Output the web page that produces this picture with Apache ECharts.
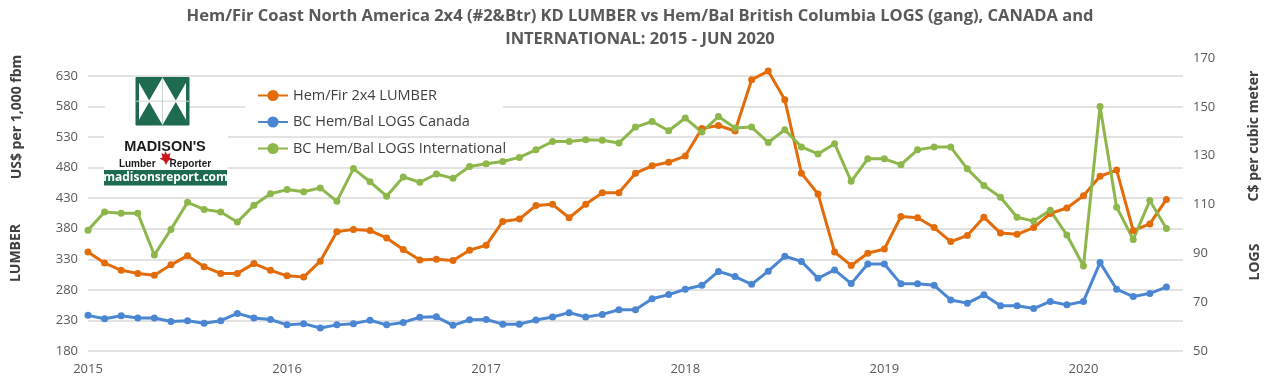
<!DOCTYPE html>
<html><head><meta charset="utf-8">
<script src="https://cdn.jsdelivr.net/npm/echarts@6/dist/echarts.min.js"></script>
<style>html,body{margin:0;padding:0;background:#fff}#c{width:1280px;height:383px}</style>
</head><body><div id="c"></div>
<script>
// ---- data (monthly, Jan 2015 - Jun 2020) ----
const firstYear = 2015;
const monthSlots = 67; // Jan 2015 .. Jul 2020 (last slot empty)
const lumber = [342,324,312,307,304,321,336,318,307,307,323,312,
  303,301,327,375,379,377,365,346,329,330,328,345,
  353,392,396,418,420,398,420,439,439,471,483,489,
  499,544,549,540,624,638,591,471,437,342,320,340,
  347,400,398,382,359,369,399,373,371,382,405,414,
  434,466,476,377,388,428];
const logsCanada = [64.6,63.2,64.4,63.5,63.5,62.1,62.4,61.4,62.4,65.4,63.5,62.9,
  60.7,61.2,59.4,60.7,61.2,62.6,60.7,61.7,63.8,64.0,60.5,62.8,
  62.9,61.0,61.0,62.7,63.9,65.7,63.9,65.0,66.9,66.9,71.4,73.1,
  75.3,76.9,82.6,80.5,77.3,82.7,88.8,86.7,79.8,83.2,77.6,85.6,
  85.6,77.5,77.5,76.9,70.9,69.6,73.0,68.5,68.5,67.4,70.3,68.9,
  70.3,86.2,75.3,72.3,73.6,76.2];
const logsIntl = [99.5,106.9,106.4,106.4,89.3,99.8,110.9,108.0,106.9,102.8,109.7,114.4,
  116.1,115.2,116.8,111.3,124.7,119.3,113.4,121.3,119.1,122.5,120.7,125.6,
  126.7,127.6,129.3,132.4,135.8,135.8,136.5,136.3,135.2,141.7,144.0,140.2,
  145.4,139.7,146.0,141.3,141.7,135.4,140.6,133.6,130.7,134.9,119.5,128.7,
  128.7,126.3,132.4,133.5,133.5,124.6,117.8,113.0,104.8,103.2,107.6,97.5,
  84.8,150.1,108.9,95.7,111.6,100.2];
const seriesNames = ['Hem/Fir 2x4 LUMBER','BC Hem/Bal LOGS Canada','BC Hem/Bal LOGS International'];
const leftAxis = {min:180, max:630, interval:50};
const rightAxis = {min:50, max:170, interval:20};

const months = [];
for (let k = 0; k < monthSlots; k++) {
  const y = firstYear + Math.floor(k / 12);
  const m = (k % 12) + 1;
  months.push(y + '-' + (m < 10 ? '0' + m : m));
}

const FONT = 'Open Sans';
const GRAY = '#595959';
const colors = ['#E36C0A', '#4A86D2', '#8DB74B'];

function lineSeries(name, data, idx) {
  const c = colors[seriesNames.indexOf(name)];
  return {
    name: name, type: 'line', data: data,
    xAxisIndex: idx, yAxisIndex: idx, clip: false,
    symbol: 'circle', symbolSize: 7, showSymbol: true,
    lineStyle: {width: 3, color: c}, itemStyle: {color: c}, color: c
  };
}

const chart = echarts.init(document.getElementById('c'), null, {renderer: 'canvas'});
const grid = {left: 88, right: 97, bottom: 32};
chart.setOption({
  animation: false,
  backgroundColor: '#fff',
  title: {
    text: 'Hem/Fir Coast North America 2x4 (#2&Btr) KD LUMBER vs Hem/Bal British Columbia LOGS (gang), CANADA and\nINTERNATIONAL: 2015 - JUN 2020',
    left: 'center', top: 0,
    textStyle: {fontFamily: FONT, fontSize: 16.5, fontWeight: 'bold', color: GRAY, lineHeight: 23}
  },
  legend: {
    orient: 'vertical', left: 252, top: 83,
    itemWidth: 30, itemHeight: 14, itemGap: 11.5,
    textStyle: {fontFamily: FONT, fontSize: 14.5, color: '#404040'},
    data: seriesNames
  },
  grid: [
    Object.assign({top: 76}, grid),
    Object.assign({top: 58}, grid)
  ],
  xAxis: [0, 1].map(i => ({
    type: 'category', gridIndex: i, data: months, boundaryGap: false, show: i === 0,
    axisLine: {show: false}, axisTick: {show: false},
    axisLabel: {interval: 11, formatter: v => v.slice(0, 4), margin: 12,
      fontFamily: FONT, fontSize: 13, color: GRAY},
    splitLine: {show: false}
  })),
  yAxis: [
    {type: 'value', gridIndex: 0, position: 'left', min: leftAxis.min, max: leftAxis.max, interval: leftAxis.interval,
      axisLine: {show: false}, axisTick: {show: false},
      axisLabel: {margin: 10, fontFamily: FONT, fontSize: 13, color: GRAY},
      splitLine: {lineStyle: {color: '#D9D9D9', width: 1.5}}},
    {type: 'value', gridIndex: 1, position: 'right', min: rightAxis.min, max: rightAxis.max, interval: rightAxis.interval,
      axisLine: {show: false}, axisTick: {show: false},
      axisLabel: {margin: 10, fontFamily: FONT, fontSize: 13, color: GRAY},
      splitLine: {show: false}}
  ],
  series: [
    lineSeries(seriesNames[0], lumber, 0),
    lineSeries(seriesNames[1], logsCanada, 1),
    lineSeries(seriesNames[2], logsIntl, 1)
  ],
  graphic: [
    // axis names
    {type: 'text', x: 17, y: 117, rotation: Math.PI / 2, z: 5,
      style: {text: 'US$ per 1,000 fbm', fontFamily: FONT, fontSize: 14, fontWeight: 'bold', fill: '#404040', align: 'center', verticalAlign: 'middle'}},
    {type: 'text', x: 16, y: 253, rotation: Math.PI / 2, z: 5,
      style: {text: 'LUMBER', fontFamily: FONT, fontSize: 14, fontWeight: 'bold', fill: '#404040', align: 'center', verticalAlign: 'middle'}},
    {type: 'text', x: 1254, y: 136, rotation: Math.PI / 2, z: 5,
      style: {text: 'C$ per cubic meter', fontFamily: FONT, fontSize: 14, fontWeight: 'bold', fill: '#404040', align: 'center', verticalAlign: 'middle'}},
    {type: 'text', x: 1255, y: 262, rotation: Math.PI / 2, z: 5,
      style: {text: 'LOGS', fontFamily: FONT, fontSize: 14, fontWeight: 'bold', fill: '#404040', align: 'center', verticalAlign: 'middle'}},
    // legend backdrop
    {type: 'rect', z: 1, shape: {x: 245, y: 80, width: 258, height: 48}, style: {fill: '#fff'}},
    // logo backdrop
    {type: 'rect', z: 1, shape: {x: 105, y: 95, width: 31, height: 34}, style: {fill: '#fff'}},
    {type: 'rect', z: 1, shape: {x: 104, y: 128, width: 124, height: 60}, style: {fill: '#fff'}},
    // logo square
    {type: 'rect', z: 3, shape: {x: 136, y: 77.5, width: 53, height: 47.5}, style: {fill: '#fff', stroke: '#1F6B4F', lineWidth: 1}},
    {type: 'polygon', z: 3, shape: {points: [[136,77.5],[162.5,77.5],[149.2,100.5]]}, style: {fill: '#1F6B4F'}},
    {type: 'polygon', z: 3, shape: {points: [[162.5,77.5],[189,77.5],[175.8,100.5]]}, style: {fill: '#1F6B4F'}},
    {type: 'polygon', z: 3, shape: {points: [[136,125],[162.5,125],[149.2,102]]}, style: {fill: '#1F6B4F'}},
    {type: 'polygon', z: 3, shape: {points: [[162.5,125],[189,125],[175.8,102]]}, style: {fill: '#1F6B4F'}},
    {type: 'rect', z: 3, shape: {x: 136, y: 77.5, width: 3, height: 47.5}, style: {fill: '#1F6B4F'}},
    {type: 'rect', z: 3, shape: {x: 186, y: 77.5, width: 3, height: 47.5}, style: {fill: '#1F6B4F'}},
    {type: 'line', z: 3, shape: {x1: 162.5, y1: 77.5, x2: 162.5, y2: 125}, style: {stroke: '#c8d6cf', lineWidth: 1}},
    {type: 'line', z: 3, shape: {x1: 136, y1: 101.2, x2: 189, y2: 101.2}, style: {stroke: '#c8d6cf', lineWidth: 1}},
    {type: 'text', z: 3, x: 165, y: 147, style: {text: "MADISON'S", fontFamily: 'Liberation Sans', fontSize: 14.5, fontWeight: 'bold', fill: '#1a1a1a', align: 'center', verticalAlign: 'middle'}},
    {type: 'polygon', z: 4, shape: {points: [[165,151],[167.5,154.5],[170.5,153],[169.5,157.5],[172.5,158.5],[168,161],[166,165],[164,161],[159.5,158.5],[162.5,157.5],[161.5,153],[164.5,154.5]]}, style: {fill: '#C8161D'}},
    {type: 'text', z: 3, x: 165, y: 164, style: {text: 'Lumber     Reporter', fontFamily: 'Liberation Sans', fontSize: 10, fontWeight: 'bold', fill: '#1a1a1a', align: 'center', verticalAlign: 'middle'}},
    {type: 'rect', z: 3, shape: {x: 104, y: 170, width: 123, height: 15.5}, style: {fill: '#1F6B4F'}},
    {type: 'text', z: 4, x: 165.5, y: 178, style: {text: 'madisonsreport.com', fontFamily: FONT, fontSize: 12, fontWeight: 'bold', fill: '#fff', align: 'center', verticalAlign: 'middle'}}
  ]
});
</script>
</body></html>
